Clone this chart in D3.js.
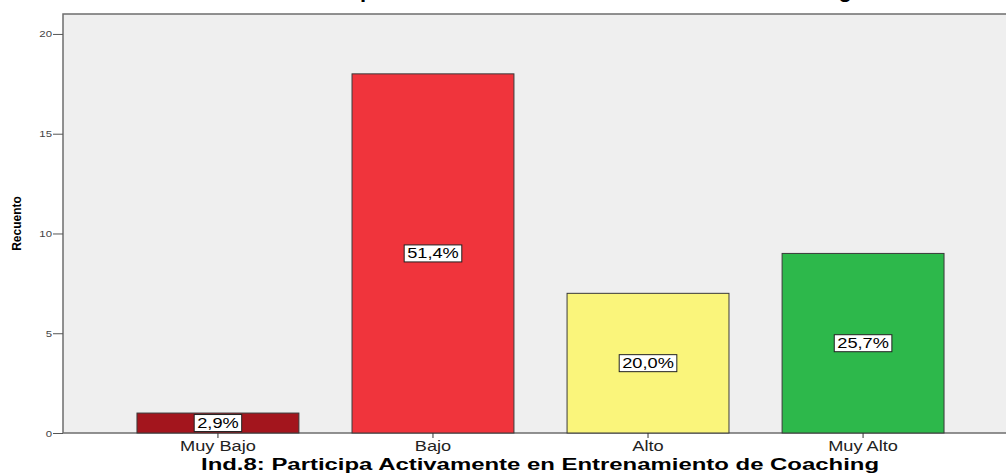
<!DOCTYPE html>
<html><head><meta charset="utf-8">
<script src="https://cdn.jsdelivr.net/npm/d3@7/dist/d3.min.js"></script>
<style>body{margin:0;background:#fff;}svg{display:block;}</style>
</head><body>
<svg id="c" width="1006" height="474"></svg>
<script>
const categories = ["Muy Bajo", "Bajo", "Alto", "Muy Alto"];
const counts = [1, 18, 7, 9];
const percentLabels = ["2,9%", "51,4%", "20,0%", "25,7%"];
const barColors = ["#a3151d", "#f0343c", "#faf57b", "#2db84b"];
const yTicks = [0, 5, 10, 15, 20];
const yTitle = "Recuento";
const xTitle = "Ind.8: Participa Activamente en Entrenamiento de Coaching";
const chartTitle = "Ind.8: Participa Activamente en Entrenamiento de Coaching";

const svg = d3.select("#c");
const L = 63, T = 14, B = 433, R = 1018;
const x = d3.scaleBand().domain(categories).range([L, R]).paddingInner(0.247).paddingOuter(0.344);
const y = d3.scaleLinear().domain([0, 21]).range([B, T]);
const FONT = "Liberation Sans, Arial, sans-serif";
function stretch(sel, k) {
  sel.each(function () {
    const w = this.getComputedTextLength();
    d3.select(this).attr("textLength", w * k).attr("lengthAdjust", "spacingAndGlyphs");
  });
}

// title (cropped at top, as in the reference)
svg.append("text").attr("x", 540).attr("y", -3).attr("text-anchor", "middle")
  .attr("font-family", FONT).attr("font-weight", "bold")
  .attr("font-size", 22).attr("fill", "#000").text(chartTitle);

// plot background
svg.append("rect").attr("x", L).attr("y", T).attr("width", R - L).attr("height", B - T)
  .attr("fill", "#efefef").attr("stroke", "#6e6e6e").attr("stroke-width", 1.5);

// bars
svg.selectAll("rect.bar").data(counts).join("rect").attr("class", "bar")
  .attr("x", (d, i) => x(categories[i]))
  .attr("y", d => y(d))
  .attr("width", x.bandwidth())
  .attr("height", d => y(0) - y(d))
  .attr("fill", (d, i) => barColors[i])
  .attr("stroke", "#3a3a3a").attr("stroke-width", 1);

// percent labels
const lab = svg.selectAll("g.lab").data(counts).join("g").attr("class", "lab")
  .attr("transform", (d, i) => `translate(${x(categories[i]) + x.bandwidth() / 2},${y(d / 2)})`);
lab.each(function (d, i) {
  const g = d3.select(this);
  const t = g.append("text").attr("text-anchor", "middle").attr("dy", "0.36em")
    .attr("font-family", FONT).attr("font-size", 14)
    .attr("fill", "#000").text(percentLabels[i]);
  const w0 = t.node().getComputedTextLength();
  const w = w0 * 1.3;
  t.attr("textLength", w).attr("lengthAdjust", "spacingAndGlyphs");
  g.insert("rect", "text").attr("x", -w / 2 - 3).attr("y", -8.5).attr("width", w + 6).attr("height", 17)
    .attr("fill", "#fff").attr("stroke", "#222").attr("stroke-width", 1);
});

// y axis
const yAxis = svg.append("g").attr("transform", `translate(${L},0)`)
  .call(d3.axisLeft(y).tickValues(yTicks).tickSize(10).tickPadding(1));
yAxis.select(".domain").remove();
yAxis.selectAll("line").attr("stroke", "#555");
yAxis.selectAll("text").attr("font-family", FONT).attr("font-size", 9.5).attr("fill", "#444");
stretch(yAxis.selectAll("text"), 1.2);

// x axis
const xAxis = svg.append("g").attr("transform", `translate(0,${B})`)
  .call(d3.axisBottom(x).tickSize(5).tickPadding(3));
xAxis.select(".domain").remove();
xAxis.selectAll("line").attr("stroke", "#333");
xAxis.selectAll("text").attr("font-family", FONT).attr("font-size", 14).attr("fill", "#222");
stretch(xAxis.selectAll("text"), 1.3);

// axis titles
svg.append("text").attr("transform", `translate(21,${(T + B) / 2}) rotate(-90)`)
  .attr("text-anchor", "middle").attr("font-family", "Liberation Sans Narrow, Liberation Sans, Arial, sans-serif")
  .attr("font-stretch", "condensed").attr("font-weight", "bold").attr("font-size", 12).text(yTitle);

const xt = svg.append("text").attr("x", 540).attr("y", 470).attr("text-anchor", "middle")
  .attr("font-family", FONT).attr("font-weight", "bold")
  .attr("font-size", 16).text(xTitle);
xt.attr("textLength", 678).attr("lengthAdjust", "spacingAndGlyphs");
</script>
</body></html>
